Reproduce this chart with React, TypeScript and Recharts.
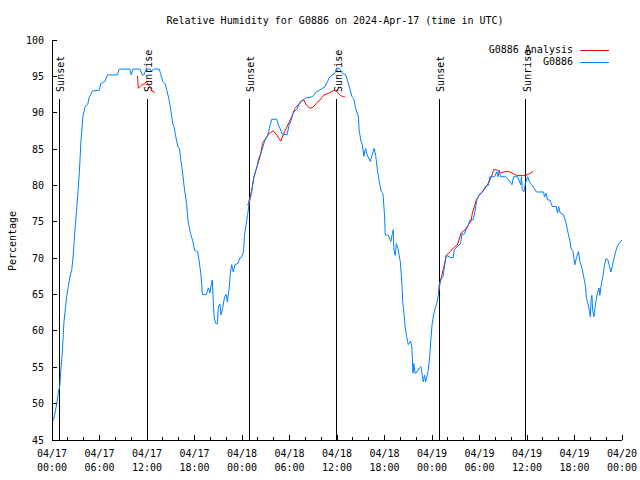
import { LineChart, Line, XAxis, YAxis, ReferenceLine, Legend } from 'recharts';

// hours since 04/17 00:00 UTC, relative humidity (%)
const stationReadings: [number, number][] = [
  [0.0, 47.5], [0.25, 48.0], [0.6, 50.0], [0.8, 51.5], [1.0, 52.6], [1.1, 54.4], [1.3, 57.0],
  [1.4, 59.0], [1.5, 61.1], [1.7, 63.2], [1.85, 64.7], [2.06, 66.1], [2.27, 67.5], [2.5, 68.4],
  [2.7, 70.7], [2.9, 73.9], [3.1, 76.5], [3.2, 78.0], [3.45, 81.7], [3.66, 86.2], [3.9, 89.5],
  [4.2, 90.9], [4.5, 91.1], [4.7, 92.1], [5.1, 93.0], [6.0, 93.1], [6.15, 94.0], [6.7, 94.3],
  [7.0, 95.2], [8.25, 95.2], [8.5, 96.0], [9.85, 96.0], [10.0, 95.2], [10.2, 96.0], [11.1, 96.0],
  [11.4, 95.2], [11.6, 95.2], [11.9, 96.0], [12.4, 96.0], [12.6, 95.7], [12.8, 96.0], [13.55, 96.0],
  [13.7, 95.4], [14.0, 94.3], [14.3, 94.0], [14.5, 93.1], [14.8, 91.75], [15.0, 90.4], [15.25, 88.5],
  [15.4, 88.1], [15.6, 86.9], [15.9, 85.3], [16.1, 85.1], [16.25, 83.7], [16.5, 81.7], [16.7, 79.8],
  [17.0, 77.5], [17.2, 75.0], [17.5, 73.4], [17.8, 72.3], [18.0, 71.1], [18.4, 70.9], [18.6, 69.5],
  [18.8, 67.9], [19.0, 65.0], [19.5, 65.0], [19.75, 65.9], [19.95, 65.2], [20.1, 66.3], [20.25, 67.0],
  [20.4, 63.3], [20.5, 61.7], [20.7, 61.0], [20.9, 61.0], [21.0, 63.3], [21.2, 63.7], [21.35, 62.2],
  [21.55, 63.1], [21.8, 64.7], [22.0, 65.0], [22.15, 64.0], [22.35, 65.6], [22.55, 68.1], [22.7, 69.1],
  [22.9, 68.1], [23.1, 69.1], [23.5, 69.3], [23.7, 70.0], [23.9, 70.1], [24.2, 70.9], [24.3, 73.0],
  [24.5, 74.5], [24.7, 75.9], [24.9, 77.6], [25.2, 78.9], [25.5, 81.2], [25.7, 81.9], [25.9, 82.6],
  [26.1, 83.7], [26.3, 84.2], [26.6, 85.1], [26.9, 86.25], [27.2, 86.7], [27.45, 87.85], [27.75, 89.1],
  [28.4, 89.1], [28.6, 88.3], [28.8, 87.85], [29.1, 87.0], [29.7, 87.0], [29.9, 88.1], [30.2, 89.0],
  [30.5, 90.1], [30.9, 90.4], [31.2, 91.1], [31.5, 91.6], [32.0, 92.0], [32.9, 92.2], [33.4, 92.9],
  [33.8, 93.1], [34.5, 93.6], [34.8, 94.3], [35.1, 94.95], [35.7, 95.4], [35.95, 96.1], [36.3, 96.1],
  [36.7, 95.4], [37.1, 95.2], [37.3, 94.5], [37.6, 93.4], [37.9, 92.2], [38.1, 92.0], [38.4, 90.4],
  [38.7, 89.5], [38.8, 87.6], [39.0, 86.25], [39.2, 85.6], [39.4, 84.0], [39.6, 85.1], [39.75, 84.4],
  [39.9, 84.0], [40.2, 83.3], [40.5, 84.4], [40.7, 85.1], [40.9, 84.0], [41.1, 82.1], [41.35, 80.5],
  [41.6, 79.1], [41.8, 78.9], [42.0, 76.0], [42.1, 73.2], [42.5, 73.1], [42.8, 72.3], [43.0, 73.4],
  [43.1, 73.9], [43.2, 71.1], [43.35, 70.4], [43.5, 72.0], [43.7, 71.3], [44.0, 69.5], [44.2, 66.5],
  [44.3, 64.0], [44.5, 61.95], [44.6, 60.6], [44.8, 59.2], [45.0, 58.1], [45.3, 58.6], [45.45, 57.9],
  [45.6, 54.2], [45.7, 55.5], [45.85, 54.2], [46.0, 54.2], [46.4, 54.9], [46.6, 55.1], [46.9, 53.0],
  [47.05, 53.9], [47.2, 53.0], [47.5, 54.4], [47.7, 56.3], [47.85, 58.7], [48.0, 60.8], [48.2, 62.2],
  [48.4, 63.1], [48.6, 63.8], [48.8, 64.9], [48.9, 66.3], [49.1, 67.0], [49.4, 67.5], [49.6, 69.1],
  [49.8, 70.4], [50.3, 70.1], [50.7, 70.1], [50.8, 71.1], [51.2, 71.6], [51.6, 72.0], [51.8, 73.4],
  [52.0, 73.2], [52.3, 73.9], [52.5, 74.3], [52.8, 75.25], [53.2, 75.3], [53.4, 76.3], [53.7, 78.2],
  [54.1, 78.9], [54.4, 79.1], [54.7, 79.8], [55.1, 80.0], [55.3, 81.2], [55.9, 81.2], [56.2, 81.9],
  [56.35, 81.2], [56.5, 82.1], [56.65, 81.2], [57.3, 81.2], [57.5, 81.0], [58.1, 80.1], [58.3, 81.2],
  [58.8, 81.2], [59.2, 80.1], [59.3, 81.2], [59.4, 79.4], [59.6, 79.1], [59.8, 80.3], [60.1, 81.2],
  [60.3, 80.5], [60.6, 80.1], [60.9, 79.6], [61.2, 79.1], [62.1, 79.1], [62.2, 78.4], [62.4, 78.9],
  [62.6, 78.0], [62.9, 78.0], [63.2, 77.1], [63.7, 77.1], [63.85, 76.2], [64.0, 77.1], [64.2, 76.2],
  [64.6, 76.0], [64.9, 75.0], [65.2, 73.4], [65.4, 72.5], [65.55, 71.4], [65.8, 70.9], [66.05, 69.1],
  [66.25, 70.1], [66.5, 70.9], [66.7, 69.5], [67.0, 68.4], [67.2, 67.2], [67.4, 66.1], [67.5, 64.5],
  [67.7, 63.8], [67.9, 62.65], [68.0, 61.95], [68.1, 64.3], [68.2, 64.9], [68.3, 62.8], [68.45, 61.95],
  [68.6, 63.3], [68.75, 64.3], [68.9, 65.2], [69.1, 65.9], [69.2, 64.9], [69.4, 66.5], [69.6, 67.6],
  [69.8, 69.1], [70.0, 70.0], [70.2, 69.8], [70.4, 69.0], [70.6, 68.1], [70.9, 69.5], [71.2, 70.9],
  [71.4, 71.6], [71.6, 72.0], [72.0, 72.5],
];

// analysis runs, one list per run
const analysisRun1: [number, number][] = [
  [10.8, 95.05], [10.9, 93.35], [11.3, 93.8], [11.75, 94.0], [11.9, 94.3], [12.4, 93.5],
  [12.7, 92.9], [13.0, 92.8],
];
const analysisRun2: [number, number][] = [
  [24.7, 77.3], [24.8, 77.5], [25.2, 79.2], [25.5, 81.1], [25.9, 82.6], [26.3, 84.0], [26.6, 85.8],
  [27.0, 86.5], [27.5, 87.2], [27.95, 87.5], [28.4, 86.9], [28.9, 86.1], [29.3, 87.2], [29.7, 88.1],
  [30.3, 89.5], [30.7, 90.6], [31.1, 91.1], [31.5, 91.65], [31.8, 91.75], [32.1, 91.1], [32.6, 90.6],
  [33.0, 90.8], [33.4, 91.3], [33.85, 91.75], [34.3, 92.4], [35.0, 92.7], [35.3, 92.9], [35.75, 93.1],
  [36.0, 92.9], [36.4, 92.4], [36.8, 92.2], [37.0, 92.2],
];
const analysisRun3: [number, number][] = [
  [48.9, 65.6], [49.0, 66.5], [49.2, 67.5], [49.4, 68.4], [49.6, 69.3], [49.8, 70.4], [50.3, 70.9],
  [50.7, 71.4], [51.2, 71.8], [51.4, 72.5], [51.7, 73.5], [52.2, 73.9], [52.6, 74.6], [52.9, 75.0],
  [53.1, 76.2], [53.3, 76.9], [53.6, 78.0], [53.85, 78.45], [54.3, 79.1], [54.7, 79.6], [55.1, 80.3],
  [55.5, 81.2], [55.8, 82.2], [56.3, 82.1], [56.7, 81.75], [57.2, 81.9], [57.8, 81.9], [58.3, 81.6],
  [58.7, 81.35], [59.4, 81.35], [59.8, 81.35], [60.3, 81.6], [60.75, 81.9],
];

const seriesNames = ['G0886 Analysis', 'G0886'];
const seriesColors = ['#ff0000', '#0080ff'];

const sunHours = [0.93, 12.04, 24.93, 35.96, 48.93, 59.87];
const sunLabels = ['Sunset', 'Sunrise', 'Sunset', 'Sunrise', 'Sunset', 'Sunrise'];
const sunLineTop = 91.9;

const xTicks = Array.from({ length: 37 }, (_, i) => i * 2);
const xTickDays = ['04/17', '04/17', '04/17', '04/17', '04/18', '04/18', '04/18', '04/18', '04/19', '04/19', '04/19', '04/19', '04/20'];
const xTickTimes = ['00:00', '06:00', '12:00', '18:00', '00:00', '06:00', '12:00', '18:00', '00:00', '06:00', '12:00', '18:00', '00:00'];
const yTicks = [45, 50, 55, 60, 65, 70, 75, 80, 85, 90, 95, 100];

const stationData = stationReadings.map(([h, v]) => ({ h, v }));
const analysisData = [analysisRun1, analysisRun2, analysisRun3].flatMap((run, i) => {
  const pts: { h: number; v: number | null }[] = run.map(([h, v]) => ({ h, v }));
  if (i > 0) pts.unshift({ h: run[0][0] - 0.01, v: null });
  return pts;
});

const FONT = 'DejaVu Sans Mono';

const BottomTick = (props: any) => {
  const { x, y, payload } = props;
  const major = payload.value % 6 === 0;
  const idx = payload.value / 6;
  return (
    <g>
      <line x1={x} x2={x} y1={y} y2={y - (major ? 5 : 3)} stroke="#000" shapeRendering="crispEdges" />
      {major && (
        <text x={x} y={y + 17} textAnchor="middle" fontFamily={FONT} fontSize={10} fill="#000">
          <tspan x={x}>{xTickDays[idx]}</tspan>
          <tspan x={x} dy={14}>{xTickTimes[idx]}</tspan>
        </text>
      )}
    </g>
  );
};

const TopTick = (props: any) => {
  const { x, y, payload } = props;
  const major = payload.value % 6 === 0;
  return <line x1={x} x2={x} y1={y} y2={y + (major ? 5 : 3)} stroke="#000" shapeRendering="crispEdges" />;
};

const LeftTick = (props: any) => {
  const { x, y, payload } = props;
  return (
    <g>
      <line x1={x} x2={x + 5} y1={y} y2={y} stroke="#000" shapeRendering="crispEdges" />
      <text x={x - 8} y={y + 3.5} textAnchor="end" fontFamily={FONT} fontSize={10} fill="#000">
        {payload.value}
      </text>
    </g>
  );
};

const RightTick = (props: any) => {
  const { x, y } = props;
  return <line x1={x} x2={x - 5} y1={y} y2={y} stroke="#000" shapeRendering="crispEdges" />;
};

const sunLabel = (text: string) => (props: any) => {
  const vb = props.viewBox || {};
  const x = vb.x + 1.5;
  const y = vb.y - 7;
  return (
    <text
      x={x}
      y={y}
      transform={`rotate(-90 ${x} ${y})`}
      textAnchor="start"
      dominantBaseline="central"
      fontFamily={FONT}
      fontSize={10}
      fill="#000"
    >
      {text}
    </text>
  );
};

const yLabel = (props: any) => {
  const vb = props.viewBox || { x: 8, y: 40, height: 400 };
  const x = 12;
  const y = vb.y + vb.height / 2 + 1;
  return (
    <text x={x} y={y} transform={`rotate(-90 ${x} ${y})`} textAnchor="middle" dominantBaseline="central"
      fontFamily={FONT} fontSize={10} fill="#000">
      Percentage
    </text>
  );
};

// gnuplot keeps the plotting order in its key
const renderLegend = (props: any) => {
  const items = [...(props.payload || [])].sort(
    (a: any, b: any) => seriesNames.indexOf(a.value) - seriesNames.indexOf(b.value),
  );
  return (
    <div style={{ fontFamily: FONT, fontSize: 10, lineHeight: '12px', color: '#000' }}>
      {items.map((p: any) => (
        <div key={p.value} style={{ display: 'flex', alignItems: 'center', justifyContent: 'flex-end', height: 12 }}>
          <span style={{ whiteSpace: 'pre' }}>{p.value}</span>
          <svg width={36} height={12} style={{ display: 'block' }}>
            <line x1={7} x2={36} y1={6.5} y2={6.5} stroke={p.color} strokeWidth={1} shapeRendering="crispEdges" />
          </svg>
        </div>
      ))}
    </div>
  );
};

export default function App() {
  return (
    <div style={{ position: 'absolute', left: 0, top: 0, width: 640, height: 480, background: '#fff' }}>
      <div style={{ position: 'absolute', left: 50, top: 15, width: 570, textAlign: 'center', fontFamily: FONT, fontSize: 10, lineHeight: '12px', whiteSpace: 'pre' }}>
        Relative Humidity for G0886 on 2024-Apr-17 (time in UTC)
      </div>
      <LineChart width={640} height={480} margin={{ top: 40, right: 18, bottom: 0, left: 8 }} style={{ fontFamily: FONT }}>
        <XAxis xAxisId={0} type="number" dataKey="h" domain={[0, 72]} ticks={xTicks} interval={0} height={40}
          allowDataOverflow tickSize={0} tickMargin={0} tickLine={false} axisLine={{ stroke: '#000', shapeRendering: 'crispEdges' }} tick={<BottomTick />} />
        <XAxis xAxisId="top" orientation="top" type="number" dataKey="h" domain={[0, 72]} ticks={xTicks} interval={0} height={0}
          allowDataOverflow tickSize={0} tickMargin={0} tickLine={false} axisLine={{ stroke: '#000', shapeRendering: 'crispEdges' }} tick={<TopTick />} />
        <YAxis yAxisId={0} type="number" domain={[45, 100]} ticks={yTicks} interval={0} width={44}
          allowDataOverflow tickSize={0} tickMargin={0} tickLine={false} axisLine={{ stroke: '#000', shapeRendering: 'crispEdges' }} tick={<LeftTick />}
          label={yLabel} />
        <YAxis yAxisId="right" orientation="right" type="number" domain={[45, 100]} ticks={yTicks} interval={0} width={0}
          allowDataOverflow tickSize={0} tickMargin={0} tickLine={false} axisLine={{ stroke: '#000', shapeRendering: 'crispEdges' }} tick={<RightTick />} />
        <Legend layout="vertical" align="center" verticalAlign="middle" content={renderLegend}
          wrapperStyle={{ top: 44, right: 31, left: 'auto', bottom: 'auto', width: 'auto' }} />
        {sunHours.map((h, i) => (
          <ReferenceLine key={i} segment={[{ x: h, y: 45 }, { x: h, y: sunLineTop }]} stroke="#000" strokeWidth={1}
            shapeRendering="crispEdges" label={sunLabel(sunLabels[i])} />
        ))}
        <Line data={analysisData} dataKey="v" name={seriesNames[0]} type="linear" stroke={seriesColors[0]} strokeWidth={1}
          dot={false} activeDot={false} connectNulls={false} isAnimationActive={false} />
        <Line data={stationData} dataKey="v" name={seriesNames[1]} type="linear" stroke={seriesColors[1]} strokeWidth={1}
          dot={false} activeDot={false} isAnimationActive={false} />
      </LineChart>
    </div>
  );
}
